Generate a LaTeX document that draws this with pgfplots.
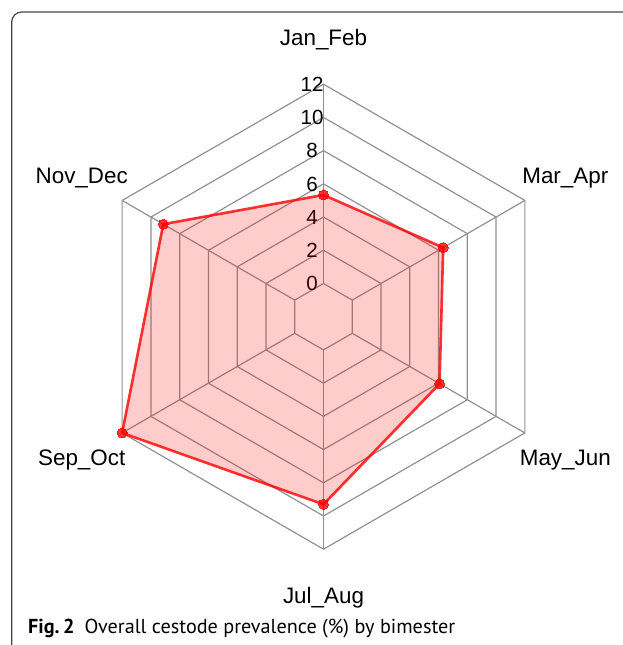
\documentclass[border=0pt]{standalone}
\usepackage{pgfplots}
\usepackage{pgfplotstable}
\pgfplotsset{compat=1.18}
\usepackage{fontspec}
\setmainfont{Liberation Sans}
\newfontfamily\capfont{PT Sans}
\definecolor{gridc}{RGB}{145,145,145}
\definecolor{framec}{RGB}{70,70,70}

\pgfplotstableread{
a v
90 5.33
30 6.32
-30 6.07
-90 9.30
-150 12.0
150 9.14
}\prevdata

\pgfplotstableread{
a z
90 0
30 0
-30 0
-90 0
-150 0
150 0
}\hexang

\pgfplotstableread{
r z
2 0
14 0
}\spoke

\begin{document}
\begin{tikzpicture}[x=1pt,y=1pt]
\path[use as bounding box] (0,0) rectangle (622,645);
\draw[framec, line width=1.2pt, rounded corners=10pt] (11.7,-10) -- (11.7,633) -- (640,633);
\begin{axis}[
  at={(323.5pt,328.3pt)}, anchor=center,
  hide axis, scale only axis,
  x=16.607pt, y=16.607pt,
  xmin=-16, xmax=16, ymin=-16, ymax=16,
  clip=false,
]
\pgfplotsinvokeforeach{2,4,6,8,10,12,14}{
  \addplot[gridc, line width=1.2pt, mark=none, line join=miter] table[x expr={#1*cos(\thisrow{a})}, y expr={#1*sin(\thisrow{a})}] {\hexang} -- cycle;
}
\pgfplotsinvokeforeach{90,30,-30,-90,-150,150}{
  \addplot[gridc, line width=1.2pt, mark=none] table[x expr={\thisrow{r}*cos(#1)}, y expr={\thisrow{r}*sin(#1)}] {\spoke};
}
\begin{scope}[every node/.style={font=\fontsize{20.5}{20.5}\selectfont, text height=14.7pt, text depth=0pt, inner sep=0pt, anchor=center}]
\node at (axis cs:-0.69,2) {0};
\node at (axis cs:-0.69,4) {2};
\node at (axis cs:-0.69,6) {4};
\node at (axis cs:-0.69,8) {6};
\node at (axis cs:-0.69,10) {8};
\node at (axis cs:-0.69,12) {10};
\node at (axis cs:-0.69,14) {12};
\end{scope}
\addplot[draw=none, fill=red, fill opacity=0.2, mark=none] table[x expr={(\thisrow{v}+2)*cos(\thisrow{a})}, y expr={(\thisrow{v}+2)*sin(\thisrow{a})}] {\prevdata} -- cycle;
\addplot[draw=red, draw opacity=0.8, line width=2.6pt, line join=round, mark=none] table[x expr={(\thisrow{v}+2)*cos(\thisrow{a})}, y expr={(\thisrow{v}+2)*sin(\thisrow{a})}] {\prevdata} -- cycle;
\addplot[color=red, only marks, mark=*, mark size=5pt, opacity=0.8, mark options={draw=red, fill=red, line width=0pt}] table[x expr={(\thisrow{v}+2)*cos(\thisrow{a})}, y expr={(\thisrow{v}+2)*sin(\thisrow{a})}] {\prevdata};
\begin{scope}[every node/.style={font=\fontsize{22.4}{22.4}\selectfont, text height=16pt, text depth=0pt, inner sep=0pt, anchor=center}]
\node at (axis cs:0,16.8) {Jan\_Feb};
\node at (axis cs:14.56,8.5) {Mar\_Apr};
\node at (axis cs:14.56,-8.5) {May\_Jun};
\node at (axis cs:0,-16.8) {Jul\_Aug};
\node at (axis cs:-14.56,-8.5) {Sep\_Oct};
\node at (axis cs:-14.56,8.5) {Nov\_Dec};
\end{scope}
\end{axis}
\node[anchor=base west, inner sep=0pt, font=\capfont\fontsize{20.2}{20.2}\selectfont] at (28,12) {\textbf{Fig.\,2}\hspace{0.5em}Overall cestode prevalence (\%) by bimester};
\end{tikzpicture}
\end{document}
